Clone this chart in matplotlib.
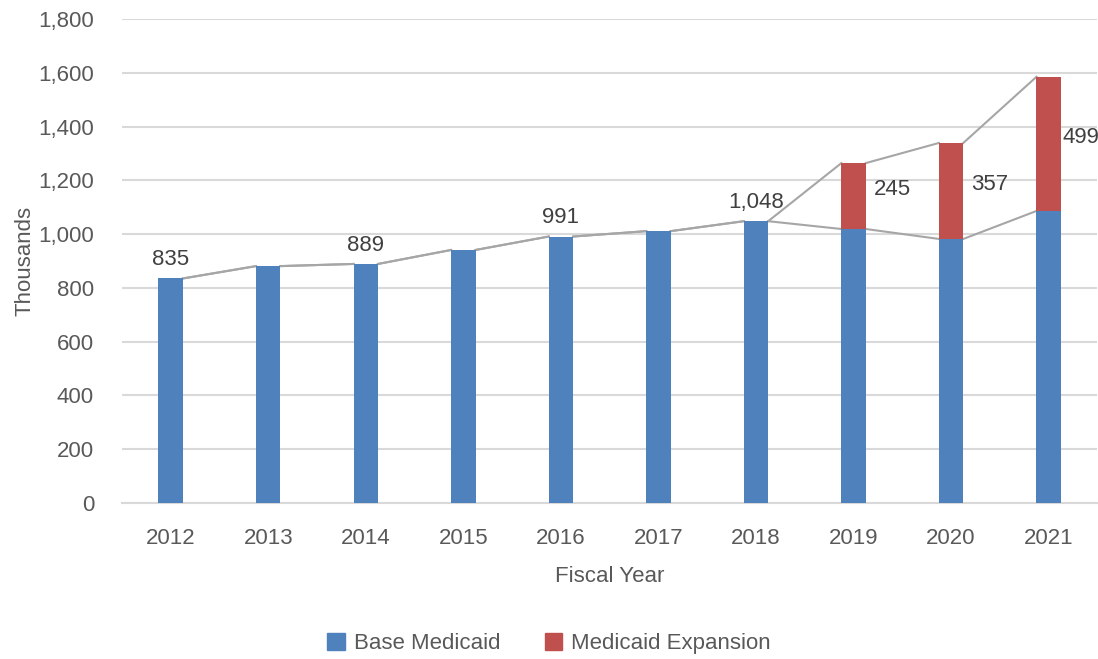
import numpy as np
import matplotlib.pyplot as plt
from matplotlib.patches import Patch

years = ["2012", "2013", "2014", "2015", "2016", "2017", "2018", "2019", "2020", "2021"]
base = [835, 881, 889, 941, 991, 1011, 1048, 1019, 982, 1086]
expansion = [0, 0, 0, 0, 0, 0, 0, 245, 357, 499]
base_labels = {0: "835", 2: "889", 4: "991", 6: "1,048"}
exp_labels = {7: "245", 8: "357", 9: "499"}

plt.rcParams["font.family"] = ["Liberation Sans Narrow", "Liberation Sans", "DejaVu Sans"]
TXT = "#595959"
BLUE = "#4F81BD"
RED = "#C0504D"
FS = 16

fig = plt.figure(figsize=(10.98, 6.59), dpi=100)
ax = fig.add_axes([0.111, 0.2367, 0.8885, 0.7345])

x = np.arange(len(years))
w = 0.25
base = np.array(base)
expansion = np.array(expansion)
total = base + expansion

ax.bar(x, base, width=w, color=BLUE, zorder=3)
ax.bar(x, expansion, width=w, bottom=base, color=RED, zorder=3)

# series lines (Excel style: right edge -> left edge of next bar)
for s in (base, total):
    for i in range(len(x) - 1):
        ax.plot([x[i] + w / 2, x[i + 1] - w / 2], [s[i], s[i + 1]],
                color="#A6A6A6", lw=1.5, zorder=2)

for i, t in base_labels.items():
    ax.text(x[i], base[i] + 30, t, ha="center", va="bottom", fontsize=FS, color="#404040")
for i, t in exp_labels.items():
    off = 0.08 if i < len(x) - 1 else 0.02
    ax.text(x[i] + w / 2 + off, base[i] + expansion[i] / 2 + 25, t,
            ha="left", va="center", fontsize=FS, color="#404040")

ax.set_xlim(-0.5, len(years) - 0.5)
ax.set_ylim(0, 1800)
ax.set_yticks(np.arange(0, 1801, 200))
ax.set_yticklabels([f"{v:,}" for v in range(0, 1801, 200)])
ax.set_xticks(x)
ax.set_xticklabels(years)
ax.tick_params(axis="both", length=0, labelsize=FS, colors=TXT)
ax.tick_params(axis="y", pad=20)
ax.tick_params(axis="x", pad=18)
ax.grid(axis="y", color="#D9D9D9", lw=1.5, zorder=0)
for sp in ["top", "right", "left"]:
    ax.spines[sp].set_visible(False)
ax.spines["bottom"].set_color("#D9D9D9")
ax.spines["bottom"].set_linewidth(1.5)

ax.set_xlabel("Fiscal Year", fontsize=FS, color=TXT, labelpad=12)
ax.set_ylabel("Thousands", fontsize=FS, color=TXT, labelpad=2)

handles = [Patch(color=BLUE, label="Base Medicaid"), Patch(color=RED, label="Medicaid Expansion")]
fig.legend(handles=handles, loc="center", bbox_to_anchor=(0.5, 0.023), ncol=2, frameon=False,
           fontsize=FS, labelcolor=TXT, handlelength=0.8, handleheight=0.8,
           handletextpad=0.4, columnspacing=2.0)

fig.savefig("out.png", dpi=100)
